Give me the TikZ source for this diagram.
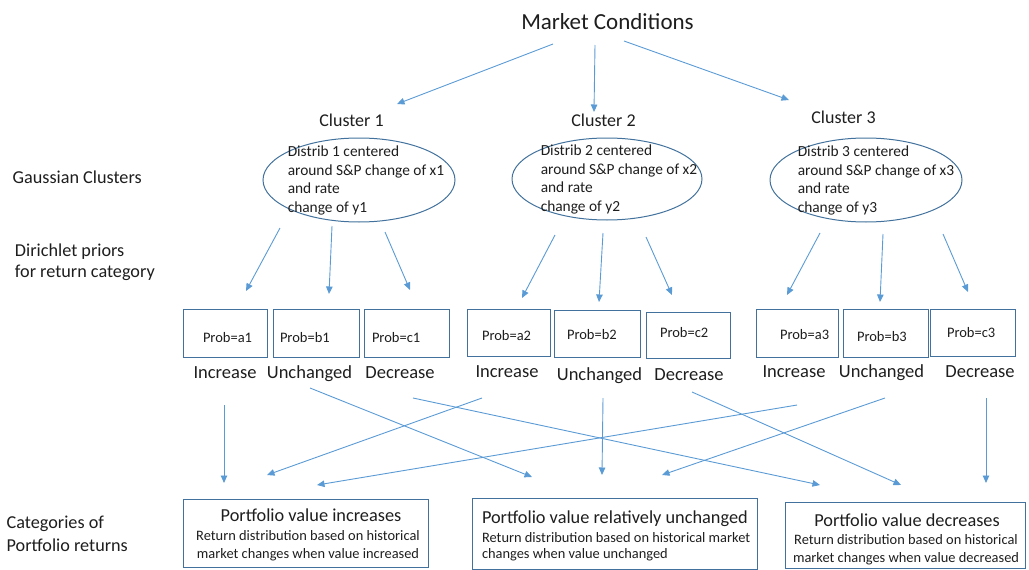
\documentclass[tikz,border=0pt]{standalone}
\usepackage{fontspec}
\setmainfont{Carlito}
\usetikzlibrary{arrows.meta,shapes.geometric}
\definecolor{arr}{HTML}{5B9BD5}
\definecolor{edgec}{HTML}{41719C}
\definecolor{ink}{HTML}{1E1E1E}
\begin{document}
\begin{tikzpicture}[x=1pt,y=-1pt,
  every node/.style={text=ink, inner sep=0pt, outer sep=0pt},
  conn/.style={draw=arr, line width=0.9pt, -{Triangle[length=7.5pt,width=6.5pt]}},
  clus/.style={ellipse, draw=edgec, line width=1pt, minimum width=192pt, minimum height=84pt},
  etext/.style={align=left, font=\fontsize{15.4}{18.7}\selectfont},
  pbox/.style={rectangle, draw=edgec, line width=0.9pt, minimum width=85pt, minimum height=48pt},
  ptext/.style={anchor=west, font=\fontsize{14.5}{17}\selectfont},
  cat/.style={anchor=base, font=\fontsize{18.5}{22}\selectfont},
  side/.style={anchor=base west, font=\fontsize{18.2}{21.5}\selectfont},
  clab/.style={anchor=base, font=\fontsize{18}{22}\selectfont},
  rbox/.style={rectangle, draw=edgec, line width=0.9pt},
  rtitle/.style={font=\fontsize{18.3}{22}\selectfont},
  rsub/.style={font=\fontsize{14.4}{17}\selectfont}
]
\useasboundingbox (0,0) rectangle (1029,570);

% top
\node[anchor=base, font=\fontsize{23}{27}\selectfont] (mc) at (607.5,29) {Market Conditions};

% clusters
\node[clab] (c1) at (351.5,126) {Cluster 1};
\node[clab] (c2) at (603.5,126) {Cluster 2};
\node[clab] (c3) at (843.5,123) {Cluster 3};

\node[clus] (e1) at (359,180) {};
\node[clus, minimum width=190pt, minimum height=82pt] (e2) at (607,179) {};
\node[clus] (e3) at (866,180) {};
\node[etext] (t1) at ([xshift=7pt,yshift=-0.5pt]e1.center) {Distrib 1 centered\\around S\&P change of x1\\and rate\\change of y1};
\node[etext] (t2) at ([xshift=12pt,yshift=-0.5pt]e2.center) {Distrib 2 centered\\around S\&P change of x2\\and rate\\change of y2};
\node[etext] (t3) at ([xshift=10pt,yshift=-0.5pt]e3.center) {Distrib 3 centered\\around S\&P change of x3\\and rate\\change of y3};

% side labels
\node[side] (g) at (12.7,183.3) {Gaussian Clusters};
\node[side] (d1) at (15,256.7) {Dirichlet priors};
\node[side] (d2) at (15,277.5) {for return category};
\node[side] (k1) at (6.7,528.3) {Categories of};
\node[side] (k2) at (6.7,551.7) {Portfolio returns};

% probability boxes
\node[pbox, minimum width=84pt] (pa1) at (225,333) {};
\node[pbox, minimum width=86pt] (pb1) at (316,333) {};
\node[pbox, minimum width=85pt] (pc1) at (406.5,333) {};
\node[pbox, minimum width=83pt, minimum height=47pt] (pa2) at (509,332.5) {};
\node[pbox, minimum width=86pt, minimum height=47pt] (pb2) at (597,333.5) {};
\node[pbox, minimum width=84pt, minimum height=46pt] (pc2) at (688,335) {};
\node[pbox, minimum width=82pt] (pa3) at (797,333) {};
\node[pbox, minimum width=85pt] (pb3) at (885.5,333) {};
\node[pbox, minimum width=85pt, minimum height=47pt] (pc3) at (972.5,332.5) {};

\node[ptext] (ta1) at (203,338) {Prob=a1};
\node[ptext] (tb1) at (280,338) {Prob=b1};
\node[ptext] (tc1) at (372,338) {Prob=c1};
\node[ptext] (ta2) at (482,336) {Prob=a2};
\node[ptext] (tb2) at (567,335) {Prob=b2};
\node[ptext] (tc2) at (660,333) {Prob=c2};
\node[ptext] (ta3) at (780,335) {Prob=a3};
\node[ptext] (tb3) at (857,337) {Prob=b3};
\node[ptext] (tc3) at (947,333) {Prob=c3};

\node[cat] (la1) at (225,378) {Increase};
\node[cat] (lb1) at (309.5,378) {Unchanged};
\node[cat] (lc1) at (400,378) {Decrease};
\node[cat] (la2) at (507,377) {Increase};
\node[cat] (lb2) at (599.5,380) {Unchanged};
\node[cat] (lc2) at (689,380) {Decrease};
\node[cat] (la3) at (794,377) {Increase};
\node[cat] (lb3) at (881.5,377) {Unchanged};
\node[cat] (lc3) at (980,377) {Decrease};

% result boxes
\node[rbox, minimum width=245pt, minimum height=68pt] (r1) at (305.5,533) {};
\node[rbox, minimum width=285pt, minimum height=71pt] (r2) at (614.5,533.5) {};
\node[rbox, minimum width=240pt, minimum height=66pt] (r3) at (905,535) {};

\node[rtitle, anchor=base] (r1t) at (311,521) {Portfolio value increases};
\node[rsub, anchor=base] (r1a) at (308,540) {Return distribution based on historical};
\node[rsub, anchor=base] (r1b) at (308,558) {market changes when value increased};

\node[rtitle, anchor=base west] (r2t) at (482,523) {Portfolio value relatively unchanged};
\node[rsub, anchor=base west] (r2a) at (482,542) {Return distribution based on historical market};
\node[rsub, anchor=base west] (r2b) at (482,558) {changes when value unchanged};

\node[rtitle, anchor=base] (r3t) at (907,526) {Portfolio value decreases};
\node[rsub, anchor=base] (r3a) at (906,544) {Return distribution based on historical};
\node[rsub, anchor=base] (r3b) at (906,562) {market changes when value decreased};

% connectors
\foreach \n/\a/\b/\c/\d in {
  m1/553/44/397/104, m2/595/45/594/112, m3/624/41/789/100,
  p1/280/228/246/291, p2/332/226/329/294, p3/385/232/410/290,
  p4/555/235/522/298, p5/603/233/599/302, p6/646/237/672/295,
  p7/820/233/787/295, p8/883/234/880/302, p9/943/234/968/292,
  q1/224/405/224/483, q2/482/398/267/475, q3/797/405/317/485,
  q4/310/388/532/477, q5/413/398/820/485, q6/603/398/602/475,
  q7/885/398/662/475, q8/692/392/901/485, q9/986/398/986/483}{
  \coordinate (\n s) at (\a,\b);
  \coordinate (\n e) at (\c,\d);
  \draw[conn] (\n s) -- (\n e);
}
\end{tikzpicture}
\end{document}
